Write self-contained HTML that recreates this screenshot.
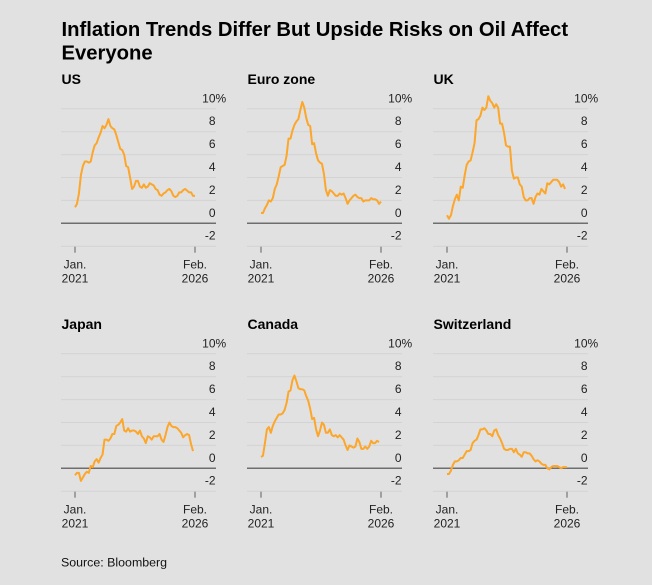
<!DOCTYPE html>
<html><head><meta charset="utf-8">
<style>
html,body{margin:0;padding:0;background:#e1e1e1;}
body{width:652px;height:585px;overflow:hidden;}
svg{display:block;font-family:"Liberation Sans",Arial,sans-serif;}
</style></head>
<body>
<svg width="652" height="585" viewBox="0 0 652 585" xmlns="http://www.w3.org/2000/svg">
<rect width="652" height="585" fill="#e1e1e1"/>
<text x="61.5" y="36" font-size="20.25" font-weight="bold" fill="#000">Inflation Trends Differ But Upside Risks on Oil Affect</text>
<text x="61.5" y="59.3" font-size="20.25" font-weight="bold" fill="#000">Everyone</text>

<defs>
<g id="frame">
  <g stroke="#d3d3d3" stroke-width="1">
    <line x1="61" x2="216" y1="108.8" y2="108.8"/>
    <line x1="61" x2="216" y1="131.7" y2="131.7"/>
    <line x1="61" x2="216" y1="154.6" y2="154.6"/>
    <line x1="61" x2="216" y1="177.5" y2="177.5"/>
    <line x1="61" x2="216" y1="200.4" y2="200.4"/>
    <line x1="61" x2="216" y1="246.2" y2="246.2"/>
  </g>
  <line x1="61" x2="216" y1="223.3" y2="223.3" stroke="#6e6e6e" stroke-width="1.5"/>
  <g stroke="#8a8a8a" stroke-width="1.5">
    <line x1="75" x2="75" y1="246.7" y2="252.7"/>
    <line x1="195" x2="195" y1="246.7" y2="252.7"/>
  </g>
  <g font-size="12" fill="#222" text-anchor="end">
    <text x="215.5" y="102.3">10</text>
    <text x="215.5" y="125.2">8</text>
    <text x="215.5" y="148.1">6</text>
    <text x="215.5" y="171">4</text>
    <text x="215.5" y="193.9">2</text>
    <text x="215.5" y="216.8">0</text>
    <text x="215.5" y="239.7">-2</text>
  </g>
  <text x="215.5" y="102.3" font-size="12" fill="#222">%</text>
  <g font-size="12" fill="#222" text-anchor="middle">
    <text x="75" y="268.5">Jan.</text>
    <text x="75" y="282.6">2021</text>
    <text x="195" y="268.5">Feb.</text>
    <text x="195" y="282.6">2026</text>
  </g>
</g>
</defs>

<!-- US -->
<g>
  <use href="#frame"/>
  <text x="61.5" y="84" font-size="14" font-weight="bold" fill="#000">US</text>
  <g transform="translate(75,223.3) scale(1.9672,-11.45)">
    <polyline fill="none" stroke="#fca62b" stroke-width="2" stroke-linejoin="round" vector-effect="non-scaling-stroke" points="0,1.4 1,1.7 2,2.6 3,4.2 4,5.0 5,5.4 6,5.4 7,5.3 8,5.4 9,6.2 10,6.8 11,7.0 12,7.5 13,7.9 14,8.5 15,8.3 16,8.6 17,9.1 18,8.5 19,8.3 20,8.2 21,7.7 22,7.1 23,6.5 24,6.4 25,6.0 26,5.0 27,4.9 28,4.0 29,3.0 30,3.2 31,3.7 32,3.7 33,3.2 34,3.1 35,3.4 36,3.1 37,3.2 38,3.5 39,3.4 40,3.3 41,3.0 42,2.9 43,2.5 44,2.4 45,2.6 46,2.7 47,2.9 48,3.0 49,2.8 50,2.4 51,2.3 52,2.4 53,2.7 54,2.7 55,2.9 56,3.0 57,2.85 58,2.7 59,2.7 60,2.4 61,2.4"/>
  </g>
</g>

<!-- Euro zone -->
<g transform="translate(186,0)">
  <use href="#frame"/>
  <text x="61.5" y="84" font-size="14" font-weight="bold" fill="#000">Euro zone</text>
  <g transform="translate(75,223.3) scale(1.9672,-11.45)">
    <polyline fill="none" stroke="#fca62b" stroke-width="2" stroke-linejoin="round" vector-effect="non-scaling-stroke" points="0,0.9 1,0.9 2,1.3 3,1.6 4,2.0 5,1.9 6,2.2 7,3.0 8,3.4 9,4.1 10,4.9 11,5.0 12,5.1 13,5.9 14,7.4 15,7.4 16,8.1 17,8.6 18,8.9 19,9.1 20,9.9 21,10.6 22,10.1 23,9.2 24,8.6 25,8.5 26,6.9 27,7.0 28,6.1 29,5.5 30,5.3 31,5.2 32,4.3 33,2.9 34,2.4 35,2.9 36,2.8 37,2.6 38,2.4 39,2.4 40,2.6 41,2.5 42,2.6 43,2.2 44,1.7 45,2.0 46,2.2 47,2.4 48,2.5 49,2.3 50,2.2 51,2.2 52,1.9 53,2.0 54,2.0 55,2.0 56,2.2 57,2.1 58,2.1 59,2.0 60,1.7 61,1.9"/>
  </g>
</g>

<!-- UK -->
<g transform="translate(372,0)">
  <use href="#frame"/>
  <text x="61.5" y="84" font-size="14" font-weight="bold" fill="#000">UK</text>
  <g transform="translate(75,223.3) scale(1.9672,-11.45)">
    <polyline fill="none" stroke="#fca62b" stroke-width="2" stroke-linejoin="round" vector-effect="non-scaling-stroke" points="0,0.7 1,0.4 2,0.7 3,1.5 4,2.1 5,2.5 6,2.0 7,3.2 8,3.1 9,4.2 10,5.1 11,5.4 12,5.5 13,6.2 14,7.0 15,9.0 16,9.1 17,9.4 18,10.1 19,9.9 20,10.1 21,11.1 22,10.7 23,10.5 24,10.1 25,10.4 26,10.1 27,8.7 28,8.7 29,7.9 30,6.8 31,6.7 32,6.7 33,4.6 34,3.9 35,4.0 36,4.0 37,3.4 38,3.2 39,2.3 40,2.0 41,2.0 42,2.2 43,2.2 44,1.7 45,2.3 46,2.6 47,2.5 48,3.0 49,2.8 50,2.6 51,3.5 52,3.4 53,3.6 54,3.8 55,3.8 56,3.8 57,3.6 58,3.2 59,3.4 60,3.0"/>
  </g>
</g>

<!-- Japan -->
<g transform="translate(0,245)">
  <use href="#frame"/>
  <text x="61.5" y="84" font-size="14" font-weight="bold" fill="#000">Japan</text>
  <g transform="translate(75,223.3) scale(1.9672,-11.45)">
    <polyline fill="none" stroke="#fca62b" stroke-width="2" stroke-linejoin="round" vector-effect="non-scaling-stroke" points="0,-0.6 1,-0.4 2,-0.4 3,-1.1 4,-0.8 5,-0.5 6,-0.3 7,-0.4 8,0.2 9,0.1 10,0.6 11,0.8 12,0.5 13,0.9 14,1.2 15,2.5 16,2.5 17,2.4 18,2.6 19,3.0 20,3.0 21,3.7 22,3.8 23,4.0 24,4.3 25,3.3 26,3.2 27,3.5 28,3.2 29,3.3 30,3.3 31,3.2 32,3.0 33,3.3 34,2.8 35,2.6 36,2.2 37,2.8 38,2.7 39,2.5 40,2.8 41,2.8 42,2.8 43,3.0 44,2.5 45,2.3 46,2.9 47,3.6 48,4.0 49,3.7 50,3.6 51,3.6 52,3.5 53,3.3 54,3.1 55,2.7 56,2.9 57,3.0 58,2.9 59,2.1 60,1.5"/>
  </g>
</g>

<!-- Canada -->
<g transform="translate(186,245)">
  <use href="#frame"/>
  <text x="61.5" y="84" font-size="14" font-weight="bold" fill="#000">Canada</text>
  <g transform="translate(75,223.3) scale(1.9672,-11.45)">
    <polyline fill="none" stroke="#fca62b" stroke-width="2" stroke-linejoin="round" vector-effect="non-scaling-stroke" points="0,1.0 1,1.1 2,2.2 3,3.4 4,3.6 5,3.1 6,3.7 7,4.1 8,4.4 9,4.7 10,4.7 11,4.8 12,5.1 13,5.7 14,6.7 15,6.8 16,7.7 17,8.1 18,7.6 19,7.0 20,6.9 21,6.9 22,6.8 23,6.3 24,5.9 25,5.2 26,4.3 27,4.4 28,3.4 29,2.8 30,3.3 31,4.0 32,3.8 33,3.1 34,3.1 35,3.4 36,2.9 37,2.8 38,2.9 39,2.7 40,2.9 41,2.7 42,2.5 43,2.0 44,1.6 45,2.0 46,1.9 47,1.8 48,1.9 49,2.6 50,2.3 51,1.7 52,1.7 53,1.9 54,1.7 55,1.9 56,2.4 57,2.2 58,2.2 59,2.4 60,2.3"/>
  </g>
</g>

<!-- Switzerland -->
<g transform="translate(372,245)">
  <use href="#frame"/>
  <text x="61.5" y="84" font-size="14" font-weight="bold" fill="#000">Switzerland</text>
  <g transform="translate(75,223.3) scale(1.9672,-11.45)">
    <polyline fill="none" stroke="#fca62b" stroke-width="2" stroke-linejoin="round" vector-effect="non-scaling-stroke" points="0,-0.5 1,-0.5 2,-0.2 3,0.3 4,0.6 5,0.6 6,0.7 7,0.9 8,0.9 9,1.2 10,1.5 11,1.5 12,1.6 13,2.2 14,2.4 15,2.5 16,2.9 17,3.4 18,3.4 19,3.5 20,3.3 21,3.0 22,3.0 23,2.8 24,3.3 25,3.4 26,2.9 27,2.6 28,2.2 29,1.7 30,1.6 31,1.6 32,1.7 33,1.7 34,1.4 35,1.7 36,1.3 37,1.2 38,1.0 39,1.4 40,1.4 41,1.3 42,1.3 43,1.1 44,0.8 45,0.6 46,0.7 47,0.6 48,0.4 49,0.3 50,0.3 51,0.0 52,-0.1 53,0.1 54,0.2 55,0.2 56,0.2 57,0.1 58,0.0 59,0.1 60,0.1 61,0.1"/>
  </g>
</g>

<text x="61" y="566.5" font-size="12.4" fill="#111">Source: Bloomberg</text>
</svg>
</body></html>
